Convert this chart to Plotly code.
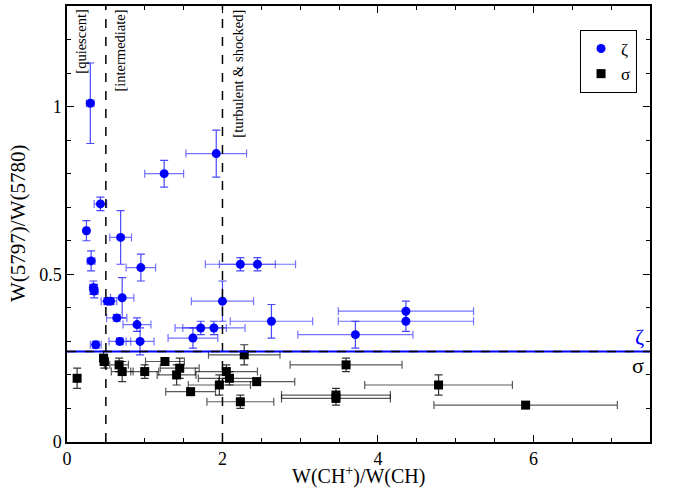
import plotly.graph_objects as go

# zeta (blue circles)
zeta_x    = [0.30, 1.25, 1.92, 0.43, 0.25, 0.69, 0.31, 0.95, 0.34, 0.35, 0.52, 0.56, 0.71, 2.00, 2.23, 2.45, 0.64, 0.90, 1.72, 1.89, 1.62, 2.63, 3.71, 4.36, 4.36, 0.37, 0.68, 0.94]
zeta_y    = [1.01, 0.80, 0.86, 0.71, 0.63, 0.61, 0.54, 0.52, 0.46, 0.45, 0.42, 0.42, 0.43, 0.42, 0.53, 0.53, 0.37, 0.35, 0.34, 0.34, 0.31, 0.36, 0.32, 0.39, 0.36, 0.29, 0.30, 0.30]
zeta_xerr = [0.05, 0.25, 0.39, 0.08, 0.03, 0.14, 0.05, 0.19, 0.05, 0.05, 0.08, 0.08, 0.15, 0.40, 0.45, 0.49, 0.13, 0.18, 0.33, 0.40, 0.32, 0.53, 0.74, 0.87, 0.87, 0.07, 0.14, 0.18]
zeta_yerr = [0.12, 0.04, 0.07, 0.02, 0.03, 0.08, 0.03, 0.04, 0.02, 0.02, 0.01, 0.01, 0.06, 0.06, 0.02, 0.02, 0.01, 0.02, 0.02, 0.02, 0.03, 0.05, 0.04, 0.03, 0.03, 0.01, 0.01, 0.04]

# sigma (black squares)
sigma_x    = [0.13, 0.47, 0.48, 0.67, 0.71, 1.00, 1.26, 1.45, 1.41, 1.59, 1.96, 2.05, 2.09, 2.23, 2.44, 2.28, 3.59, 3.46, 3.46, 4.78, 5.90]
sigma_y    = [0.19, 0.25, 0.24, 0.23, 0.21, 0.21, 0.24, 0.22, 0.20, 0.15, 0.17, 0.21, 0.19, 0.12, 0.18, 0.26, 0.23, 0.14, 0.13, 0.17, 0.11]
sigma_xerr = [0.02, 0.03, 0.05, 0.12, 0.14, 0.18, 0.25, 0.25, 0.25, 0.32, 0.40, 0.40, 0.40, 0.43, 0.49, 0.46, 0.72, 0.70, 0.70, 0.95, 1.18]
sigma_yerr = [0.03, 0.02, 0.02, 0.02, 0.03, 0.02, 0.01, 0.03, 0.03, 0.01, 0.03, 0.02, 0.02, 0.02, 0.01, 0.03, 0.02, 0.02, 0.02, 0.03, 0.01]

regime_x = [0.5, 2.0]
regime_labels = ["[quiescent]", "[intermediate]", "[turbulent &amp; shocked]"]
regime_label_x = [0.18, 0.68, 2.20]
threshold = 0.27

x_title = "W(CH<sup>+</sup>)/W(CH)"
y_title = "W(5797)/W(5780)"

FONT = "Liberation Serif"

fig = go.Figure()
fig.add_trace(go.Scatter(
    x=zeta_x, y=zeta_y, mode="markers", name="ζ",
    marker=dict(symbol="circle", size=9, color="#0000ff"),
    error_x=dict(type="data", array=zeta_xerr, color="rgba(40,40,255,0.65)", thickness=1.2, width=4),
    error_y=dict(type="data", array=zeta_yerr, color="rgba(40,40,255,0.85)", thickness=1.2, width=4),
))
fig.add_trace(go.Scatter(
    x=sigma_x, y=sigma_y, mode="markers", name="σ",
    marker=dict(symbol="square", size=9, color="black"),
    error_x=dict(type="data", array=sigma_xerr, color="rgba(0,0,0,0.65)", thickness=1.2, width=4),
    error_y=dict(type="data", array=sigma_yerr, color="rgba(0,0,0,0.8)", thickness=1.2, width=4),
))

for xv in regime_x:
    fig.add_shape(type="line", xref="x", yref="paper", x0=xv, x1=xv, y0=0, y1=1,
                  line=dict(color="black", width=1.5, dash="dash"))
fig.add_shape(type="line", xref="paper", yref="y", x0=0, x1=1, y0=threshold, y1=threshold,
              line=dict(color="#0000ff", width=2))
fig.add_shape(type="line", xref="paper", yref="y", x0=0, x1=1, y0=threshold, y1=threshold,
              line=dict(color="black", width=1.5, dash="dash"))

for lx, lt in zip(regime_label_x, regime_labels):
    fig.add_annotation(x=lx, y=1.295, xref="x", yref="y", text=lt, textangle=-90,
                       showarrow=False, xanchor="center", yanchor="top",
                       font=dict(family=FONT, size=14.5, color="black"))

fig.add_annotation(x=1, y=threshold, xref="paper", yref="y", text="ζ", showarrow=False,
                   xanchor="right", yanchor="bottom", xshift=-4,
                   font=dict(family=FONT, size=22, color="#0000ff"))
fig.add_annotation(x=1, y=threshold, xref="paper", yref="y", text="σ", showarrow=False,
                   xanchor="right", yanchor="top", xshift=-4,
                   font=dict(family=FONT, size=22, color="black"))

# axis titles as annotations for exact placement
fig.add_annotation(x=0.5, y=0, xref="paper", yref="paper", text=x_title, showarrow=False,
                   xanchor="center", yanchor="middle", yshift=-33,
                   font=dict(family=FONT, size=20, color="black"))
fig.add_annotation(x=0, y=0.5, xref="paper", yref="paper", text=y_title, showarrow=False,
                   textangle=-90, xanchor="center", yanchor="middle", xshift=-49,
                   font=dict(family=FONT, size=21, color="black"))

axis_common = dict(showline=True, linecolor="black", linewidth=1.5, mirror="ticks",
                   ticks="inside", ticklen=7, tickcolor="black", showgrid=False, zeroline=False,
                   automargin=False,
                   tickfont=dict(family=FONT, size=18, color="black"))

fig.update_layout(
    width=675, height=488,
    margin=dict(l=67, r=25, t=6, b=46),
    plot_bgcolor="white", paper_bgcolor="white",
    font=dict(family=FONT, color="black"),
    xaxis=dict(range=[0, 7.5], tickvals=[0, 2, 4, 6], ticktext=["0", "2", "4", "6"],
               minor=dict(ticks="inside", ticklen=4, tickcolor="black", dtick=0.5, tick0=0),
               **axis_common),
    yaxis=dict(range=[0, 1.3], tickvals=[0, 0.5, 1], ticktext=["0", "0.5", "1"],
               minor=dict(ticks="inside", ticklen=4, tickcolor="black", dtick=0.1, tick0=0),
               **axis_common),
    legend=dict(x=0.88, y=0.945, xanchor="left", yanchor="top", bordercolor="black", borderwidth=1,
                bgcolor="white", font=dict(family=FONT, size=17), itemwidth=30,
                tracegroupgap=0),
    showlegend=True,
)

fig.write_html("out.html")
